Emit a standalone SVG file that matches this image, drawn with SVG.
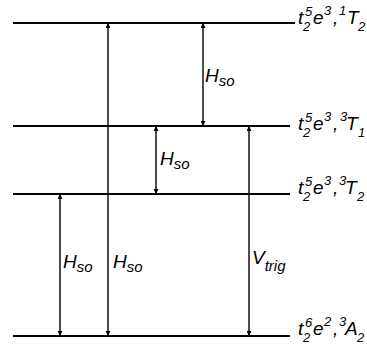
<svg xmlns="http://www.w3.org/2000/svg" width="367" height="350" viewBox="0 0 367 350">
<style>
.lvl{stroke:#000;stroke-width:2}
.arr{stroke:#000;stroke-width:1.4;fill:none;marker-start:url(#ah);marker-end:url(#ah)}
text{font-family:"Liberation Sans",Arial,sans-serif;font-style:italic;fill:#000}
.m{font-size:19px}
.s{font-size:13px}
.b{font-size:15px}
</style>
<defs>
<marker id="ah" viewBox="0 0 10 10" refX="10" refY="5" markerWidth="8" markerHeight="5" markerUnits="userSpaceOnUse" orient="auto-start-reverse">
<path d="M0,0 L10,5 L0,10 z" fill="#000"/>
</marker>
</defs>
<rect width="367" height="350" fill="#fff"/>
<g id="levels">
<g id="level-1T2"><line class="lvl" x1="13" y1="23" x2="295" y2="23"/>
<text class="m" x="298" y="24">t</text><text class="s" x="305" y="16">5</text><text class="s" x="303" y="31">2</text><text class="m" x="313" y="24">e</text><text class="s" x="324" y="15">3</text><text class="m" x="333" y="24">,</text><text class="s" x="339" y="15">1</text><text class="m" x="347" y="24">T</text><text class="s" x="358" y="31">2</text></g>
<g id="level-3T1"><line class="lvl" x1="13" y1="126" x2="290" y2="126"/>
<text class="m" x="298" y="130">t</text><text class="s" x="305" y="122">5</text><text class="s" x="303" y="137">2</text><text class="m" x="313" y="130">e</text><text class="s" x="324" y="121">3</text><text class="m" x="333" y="130">,</text><text class="s" x="340" y="121">3</text><text class="m" x="346" y="130">T</text><text class="s" x="358" y="137">1</text></g>
<g id="level-3T2"><line class="lvl" x1="13" y1="194" x2="290" y2="194"/>
<text class="m" x="298" y="194">t</text><text class="s" x="305" y="186">5</text><text class="s" x="303" y="201">2</text><text class="m" x="313" y="194">e</text><text class="s" x="324" y="185">3</text><text class="m" x="333" y="194">,</text><text class="s" x="339" y="185">3</text><text class="m" x="345" y="194">T</text><text class="s" x="357" y="201">2</text></g>
<g id="level-3A2"><line class="lvl" x1="13" y1="336" x2="290" y2="336"/>
<text class="m" x="298" y="335">t</text><text class="s" x="305" y="327">6</text><text class="s" x="303" y="342">2</text><text class="m" x="313" y="335">e</text><text class="s" x="324" y="326">2</text><text class="m" x="333" y="335">,</text><text class="s" x="339" y="326">3</text><text class="m" x="345" y="335">A</text><text class="s" x="357" y="342">2</text></g>
</g>
<g id="connectors">
<line class="arr" x1="203" y1="23" x2="203" y2="126"/>
<line class="arr" x1="156" y1="126" x2="156" y2="194"/>
<line class="arr" x1="249" y1="126" x2="249" y2="336"/>
<line class="arr" x1="60" y1="194" x2="60" y2="336"/>
<line class="arr" x1="108" y1="23" x2="108" y2="336"/>
</g>
<g id="labels">
<text x="205" y="82"><tspan class="m">H</tspan><tspan class="b" dy="4">so</tspan></text>
<text x="160" y="165"><tspan class="m">H</tspan><tspan class="b" dy="4">so</tspan></text>
<text x="63" y="268"><tspan class="m">H</tspan><tspan class="b" dy="4">so</tspan></text>
<text x="113" y="268"><tspan class="m">H</tspan><tspan class="b" dy="4">so</tspan></text>
<text x="252" y="264"><tspan class="m">V</tspan><tspan class="b" dy="7">trig</tspan></text>
</g>
</svg>
